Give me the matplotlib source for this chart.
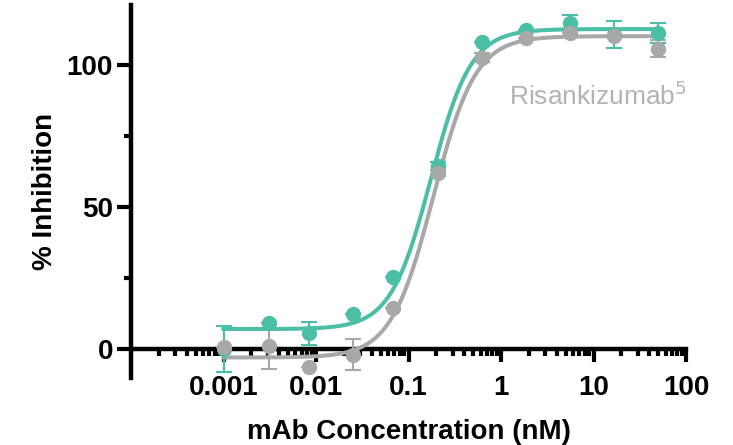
import numpy as np
import matplotlib
matplotlib.use("Agg")
import matplotlib.pyplot as plt
from matplotlib.ticker import FixedLocator, NullFormatter

plt.rcParams['font.family'] = ['Liberation Sans', 'DejaVu Sans']

# concentrations (nM), 3-fold series
conc = [0.001, 0.0031, 0.0085, 0.025, 0.0686, 0.206, 0.617, 1.85, 5.56, 16.7, 50]

# test mAb (teal)
teal_y = [0.0, 9.0, 5.5, 12.3, 25.3, 64.4, 108.0, 112.0, 114.8, 110.5, 111.0]
teal_err = [8.0, 0.0, 4.0, 0.0, 0.0, 1.5, 0.0, 0.0, 2.5, 4.7, 3.5]

# Risankizumab (gray)
gray_y = [0.7, 1.0, -6.5, -2.0, 14.4, 62.0, 102.5, 109.5, 111.0, 110.0, 105.6]
gray_err = [0.0, 8.0, 0.0, 5.5, 0.0, 1.0, 1.5, 0.0, 0.0, 0.0, 3.0]

# 4PL fit parameters: bottom, top, EC50, hill
teal_fit = (7.0, 112.5, 0.174, 2.0)
gray_fit = (-3.0, 110.0, 0.185, 1.9)

TEAL = '#4bbfa6'
GRAY = '#a8a8a8'


def four_pl(x, bottom, top, ec50, hill):
    return bottom + (top - bottom) / (1 + (ec50 / x) ** hill)


fig = plt.figure(figsize=(7.33, 4.45), dpi=100)
ax = fig.add_axes([0.1787, 0.1506, 0.936 - 0.1787, 0.989 - 0.1506])

xs = np.logspace(-3, np.log10(50), 400)
for y, err, fit, col in [(teal_y, teal_err, teal_fit, TEAL), (gray_y, gray_err, gray_fit, GRAY)]:
    ax.plot(xs, four_pl(xs, *fit), color=col, lw=2.9, zorder=3)
    ax.errorbar(conc, y, yerr=err, fmt='o', color=col, ms=10, elinewidth=1.5,
                capsize=6, capthick=1.5, zorder=4)

ax.set_xscale('log')
ax.set_xlim(1e-4, 100)
ax.set_ylim(-10.2, 121)

ax.spines['top'].set_visible(False)
ax.spines['right'].set_visible(False)
ax.spines['bottom'].set_position(('data', 0))
ax.spines['bottom'].set_zorder(2)
for s in ('left', 'bottom'):
    ax.spines[s].set_linewidth(3.2)

ax.xaxis.set_major_locator(FixedLocator([1e-3, 1e-2, 1e-1, 1, 10, 100]))
ax.set_xticklabels(['0.001', '0.01', '0.1', '1', '10', '100'])
minors = [m * 10.0 ** e for e in range(-4, 2) for m in range(2, 10)]
ax.xaxis.set_minor_locator(FixedLocator(minors))
ax.xaxis.set_minor_formatter(NullFormatter())

ax.set_yticks([0, 50, 100])
ax.yaxis.set_minor_locator(FixedLocator([25, 75]))

ax.tick_params(axis='x', which='major', direction='out', length=9, width=3, pad=10,
               labelsize=20)
ax.tick_params(axis='x', which='minor', direction='out', length=5, width=3)
ax.tick_params(axis='y', which='major', direction='out', length=10, width=3, pad=3,
               labelsize=20)
ax.tick_params(axis='y', which='minor', direction='out', length=5, width=3)
for lab in ax.get_xticklabels() + ax.get_yticklabels():
    lab.set_fontweight('bold')

ax.set_xlabel('mAb Concentration (nM)', fontsize=20, fontweight='bold')
ax.set_ylabel('% Inhibition', fontsize=20, fontweight='bold')
ax.xaxis.set_label_coords(0.5, -0.11)
ax.yaxis.set_label_coords(-0.132, 0.5)

ax.text(1.22, 89, 'Risankizumab$^5$', color='#b3b3b3', fontsize=19, ha='left', va='center')

fig.savefig('out.png', dpi=100)
